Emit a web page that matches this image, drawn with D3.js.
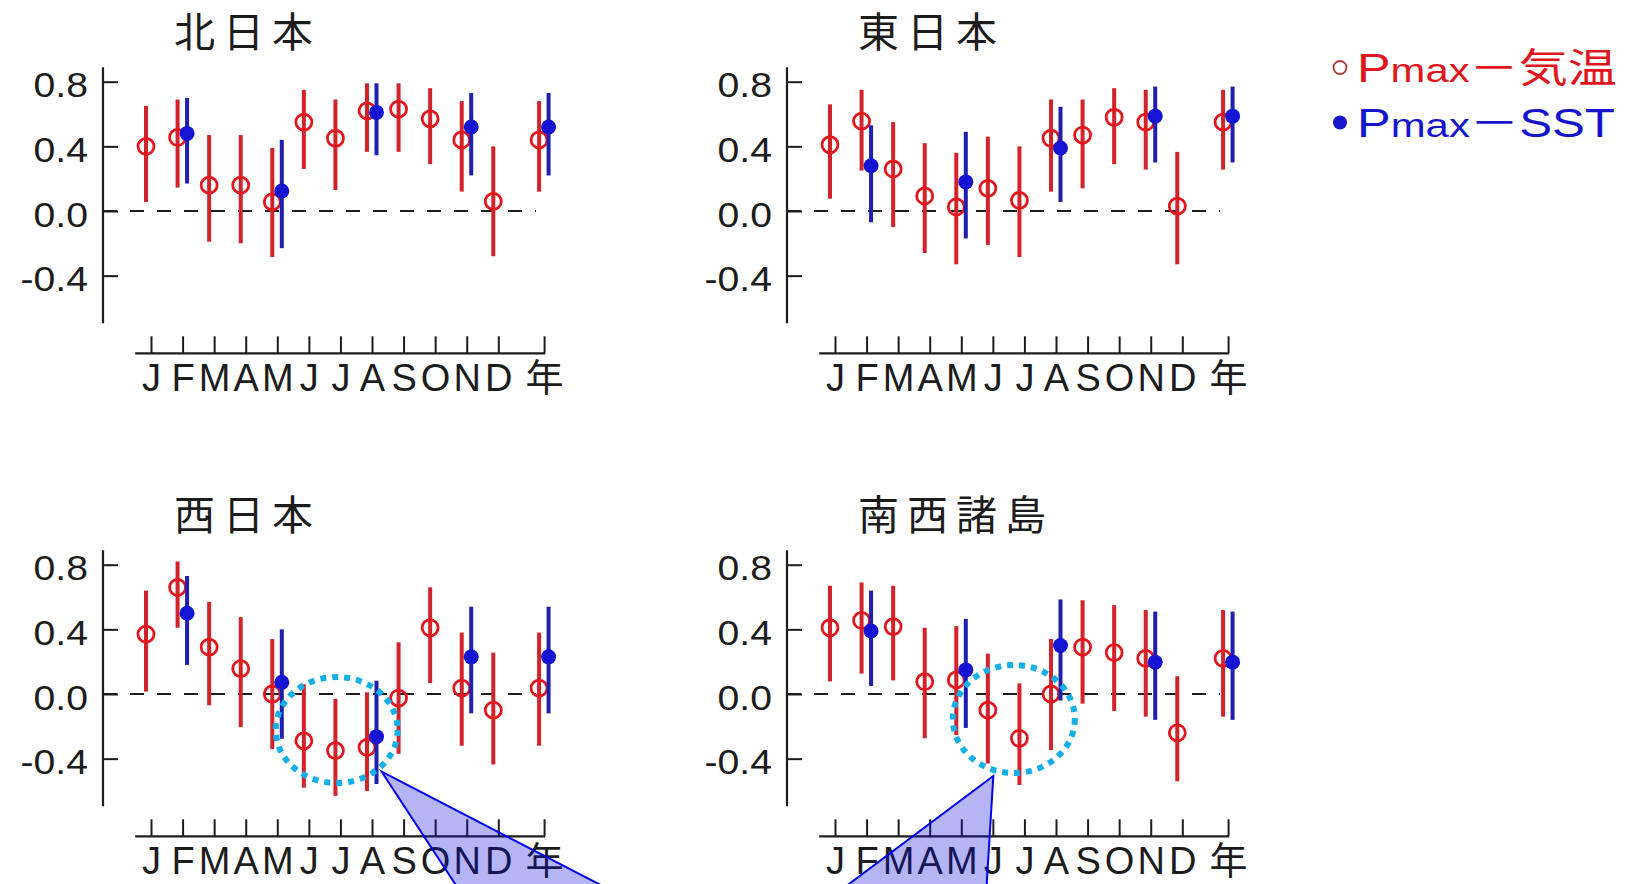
<!DOCTYPE html>
<html>
<head>
<meta charset="utf-8">
<script src="https://cdn.jsdelivr.net/npm/d3@7"></script>
<style>
  html, body { margin: 0; padding: 0; background: #fff; }
  svg { display: block; }
</style>
</head>
<body>
<svg id="chart" width="1626" height="884"></svg>
<script>
// Month labels along the x axis; the last one is the annual value
const months = ["J", "F", "M", "A", "M", "J", "J", "A", "S", "O", "N", "D", "年"];
const regionNames = ["北日本", "東日本", "西日本", "南西諸島"];
// Months (by index) that also have a Pmax–SST correlation
const sstMonths = [1, 4, 7, 10, 12];
const yTicks = [-0.4, 0.0, 0.4, 0.8];

// Pmax – air temperature correlation, with lower / upper confidence limits
const northAir   = [0.40, 0.455, 0.16, 0.16, 0.056, 0.55, 0.45, 0.62, 0.63, 0.57, 0.44, 0.06, 0.44];
const northAirLo = [0.056, 0.145, -0.19, -0.20, -0.285, 0.26, 0.13, 0.366, 0.366, 0.29, 0.12, -0.28, 0.12];
const northAirHi = [0.65, 0.69, 0.47, 0.47, 0.39, 0.75, 0.69, 0.79, 0.79, 0.76, 0.68, 0.40, 0.68];
const eastAir    = [0.41, 0.556, 0.26, 0.093, 0.025, 0.14, 0.066, 0.45, 0.47, 0.58, 0.55, 0.03, 0.55];
const eastAirLo  = [0.076, 0.25, -0.10, -0.26, -0.33, -0.21, -0.285, 0.12, 0.14, 0.29, 0.256, -0.33, 0.256];
const eastAirHi  = [0.66, 0.75, 0.55, 0.42, 0.36, 0.46, 0.40, 0.69, 0.69, 0.76, 0.75, 0.366, 0.75];
const westAir    = [0.37, 0.66, 0.29, 0.157, 0.0, -0.29, -0.35, -0.33, -0.025, 0.41, 0.036, -0.10, 0.036];
const westAirLo  = [0.015, 0.41, -0.07, -0.205, -0.34, -0.58, -0.63, -0.60, -0.37, 0.067, -0.32, -0.436, -0.32];
const westAirHi  = [0.64, 0.82, 0.57, 0.476, 0.34, 0.06, -0.03, 0.01, 0.32, 0.66, 0.38, 0.256, 0.38];
const southAir   = [0.41, 0.455, 0.417, 0.076, 0.087, -0.10, -0.274, 0.0, 0.29, 0.256, 0.22, -0.24, 0.22];
const southAirLo = [0.078, 0.126, 0.084, -0.274, -0.254, -0.43, -0.563, -0.347, -0.06, -0.105, -0.14, -0.54, -0.14];
const southAirHi = [0.67, 0.69, 0.67, 0.41, 0.42, 0.25, 0.066, 0.34, 0.58, 0.55, 0.52, 0.11, 0.52];

// Pmax – SST correlation for the months in sstMonths
const northSst   = [0.48, 0.124, 0.61, 0.52, 0.52];
const northSstLo = [0.17, -0.23, 0.345, 0.22, 0.22];
const northSstHi = [0.70, 0.44, 0.79, 0.73, 0.73];
const eastSst    = [0.28, 0.18, 0.39, 0.587, 0.587];
const eastSstLo  = [-0.07, -0.17, 0.056, 0.30, 0.30];
const eastSstHi  = [0.53, 0.49, 0.645, 0.77, 0.77];
const westSst    = [0.50, 0.072, -0.264, 0.23, 0.23];
const westSstLo  = [0.18, -0.277, -0.557, -0.12, -0.12];
const westSstHi  = [0.73, 0.40, 0.082, 0.54, 0.54];
const southSst   = [0.39, 0.149, 0.30, 0.197, 0.197];
const southSstLo = [0.05, -0.21, -0.04, -0.16, -0.16];
const southSstHi = [0.64, 0.465, 0.585, 0.51, 0.51];

const legendLabels = [
  { parts: ["P", "max", "－気温"], color: "#e0151e", open: true },
  { parts: ["P", "max", "－SST"], color: "#1515cc", open: false }
];

const panels = [
  { name: regionNames[0], air: [northAir, northAirLo, northAirHi], sst: [northSst, northSstLo, northSstHi] },
  { name: regionNames[1], air: [eastAir, eastAirLo, eastAirHi], sst: [eastSst, eastSstLo, eastSstHi] },
  { name: regionNames[2], air: [westAir, westAirLo, westAirHi], sst: [westSst, westSstLo, westSstHi] },
  { name: regionNames[3], air: [southAir, southAirLo, southAirHi], sst: [southSst, southSstLo, southSstHi] }
];

// ---- layout ----
const panelOffsets = [[0, 0], [684, 0], [0, 483], [684, 483]];
const latin = "'Liberation Sans', Arial, 'Noto Sans CJK JP', sans-serif";
const cjk = "'Noto Sans CJK JP', 'Noto Sans CJK SC', sans-serif";
const ink = "#1c1c1c";
const redRing = "#e3161d", redBar = "#d3232a";
const blueDot = "#1414d2", blueBar = "#1e1eb0";

// the annual value sits one and a half steps after December
const pos = i => (i < 12 ? i : 12.45);
const x = d3.scaleLinear().domain([0, 11]).range([151, 498.3]);
const y = d3.scaleLinear().domain([0, 0.8]).range([211, 81.7]);
const yExtent = [-0.695, 0.89];
const airShift = -5, sstShift = 4.5;

const svg = d3.select("#chart");
svg.append("rect").attr("width", 1626).attr("height", 884).attr("fill", "#fff");

panels.forEach((p, k) => {
  const g = svg.append("g").attr("transform", `translate(${panelOffsets[k][0]},${panelOffsets[k][1]})`);

  // title
  g.append("text")
    .attr("x", 174).attr("y", 47)
    .attr("font-family", cjk).attr("font-size", 41)
    .attr("letter-spacing", 8).attr("fill", ink)
    .text(p.name);

  // y axis
  const yAxis = d3.axisLeft(y).tickValues(yTicks).tickSize(-15).tickSizeOuter(0)
    .tickPadding(15).tickFormat(d => d.toFixed(1));
  const ya = g.append("g").attr("transform", "translate(103,0)").call(yAxis);
  ya.select(".domain").remove();
  ya.selectAll(".tick line").attr("stroke", ink).attr("stroke-width", 2);
  ya.selectAll(".tick text")
    .attr("font-family", latin).attr("font-size", 35).attr("fill", ink)
    .attr("x", -15 / 1.12).attr("dy", null).attr("y", 0)
    .attr("transform", "translate(0,15) scale(1.12,1)");
  g.append("line")
    .attr("x1", 103).attr("x2", 103)
    .attr("y1", y(yExtent[1])).attr("y2", y(yExtent[0]))
    .attr("stroke", ink).attr("stroke-width", 2.2);

  // x axis
  const xAxis = d3.axisBottom(x).tickValues(months.map((m, i) => pos(i)))
    .tickFormat((d, i) => months[i]).tickSize(-17).tickSizeOuter(0).tickPadding(11);
  const xa = g.append("g").attr("transform", "translate(0,353.3)").call(xAxis);
  xa.select(".domain").remove();
  xa.selectAll(".tick line").attr("stroke", ink).attr("stroke-width", 2);
  xa.selectAll(".tick text")
    .attr("font-family", latin).attr("font-size", 38).attr("fill", ink);
  g.append("line")
    .attr("x1", x(-0.5)).attr("x2", x(pos(12)) + 1)
    .attr("y1", 353.3).attr("y2", 353.3)
    .attr("stroke", ink).attr("stroke-width", 2.2);

  // zero reference line
  g.append("line")
    .attr("x1", 103).attr("x2", 536)
    .attr("y1", y(0)).attr("y2", y(0))
    .attr("stroke", ink).attr("stroke-width", 2.2)
    .attr("stroke-dasharray", "14,13");

  // Pmax – air temperature
  const air = months.map((m, i) => ({ i, v: p.air[0][i], lo: p.air[1][i], hi: p.air[2][i] }));
  g.selectAll(".airbar").data(air).join("line")
    .attr("x1", d => x(pos(d.i)) + airShift).attr("x2", d => x(pos(d.i)) + airShift)
    .attr("y1", d => y(d.lo)).attr("y2", d => y(d.hi))
    .attr("stroke", redBar).attr("stroke-width", 4);
  g.selectAll(".airdot").data(air).join("circle")
    .attr("cx", d => x(pos(d.i)) + airShift).attr("cy", d => y(d.v)).attr("r", 8)
    .attr("fill", "none").attr("stroke", redRing).attr("stroke-width", 2.8);

  // Pmax – SST
  const sst = sstMonths.map((i, j) => ({ i, v: p.sst[0][j], lo: p.sst[1][j], hi: p.sst[2][j] }));
  g.selectAll(".sstbar").data(sst).join("line")
    .attr("x1", d => x(pos(d.i)) + sstShift).attr("x2", d => x(pos(d.i)) + sstShift)
    .attr("y1", d => y(d.lo)).attr("y2", d => y(d.hi))
    .attr("stroke", blueBar).attr("stroke-width", 4);
  g.selectAll(".sstdot").data(sst).join("circle")
    .attr("cx", d => x(pos(d.i)) + sstShift).attr("cy", d => y(d.v)).attr("r", 7.5)
    .attr("fill", blueDot);
});

// ---- legend ----
legendLabels.forEach((L, j) => {
  const base = 82 + j * 55;
  svg.append("circle")
    .attr("cx", 1340).attr("cy", base - 14.5).attr("r", L.open ? 6.5 : 7)
    .attr("fill", L.open ? "none" : L.color)
    .attr("stroke", L.open ? "#b43a3a" : "none").attr("stroke-width", 1.8);
  const t = svg.append("text")
    .attr("x", 1357).attr("y", base)
    .attr("font-family", latin).attr("fill", L.color)
    .attr("textLength", j === 0 ? 260 : 258).attr("lengthAdjust", "spacingAndGlyphs");
  t.append("tspan").attr("font-size", 41).text(L.parts[0]);
  t.append("tspan").attr("font-size", 34).text(L.parts[1]);
  t.append("tspan").attr("font-size", 40).text(L.parts[2]);
});

// ---- highlighted summer months and call-outs ----
const callouts = [
  { cx: 336.7, cy: 730, rx: 61, ry: 53, tri: [[381.7, 771.7], [463, 896], [622, 896]] },
  { cx: 1013.8, cy: 719, rx: 61, ry: 54, tri: [[993.3, 776], [833, 896], [986, 896]] }
];
callouts.forEach(c => {
  svg.append("ellipse")
    .attr("cx", c.cx).attr("cy", c.cy).attr("rx", c.rx).attr("ry", c.ry)
    .attr("fill", "none").attr("stroke", "#14aee8").attr("stroke-width", 6)
    .attr("stroke-dasharray", "6,6");
  svg.append("polygon")
    .attr("points", c.tri.map(q => q.join(",")).join(" "))
    .attr("fill", "rgb(10,10,225)").attr("fill-opacity", 0.3)
    .attr("stroke", "#0000f0").attr("stroke-width", 2);
});
</script>
</body>
</html>
